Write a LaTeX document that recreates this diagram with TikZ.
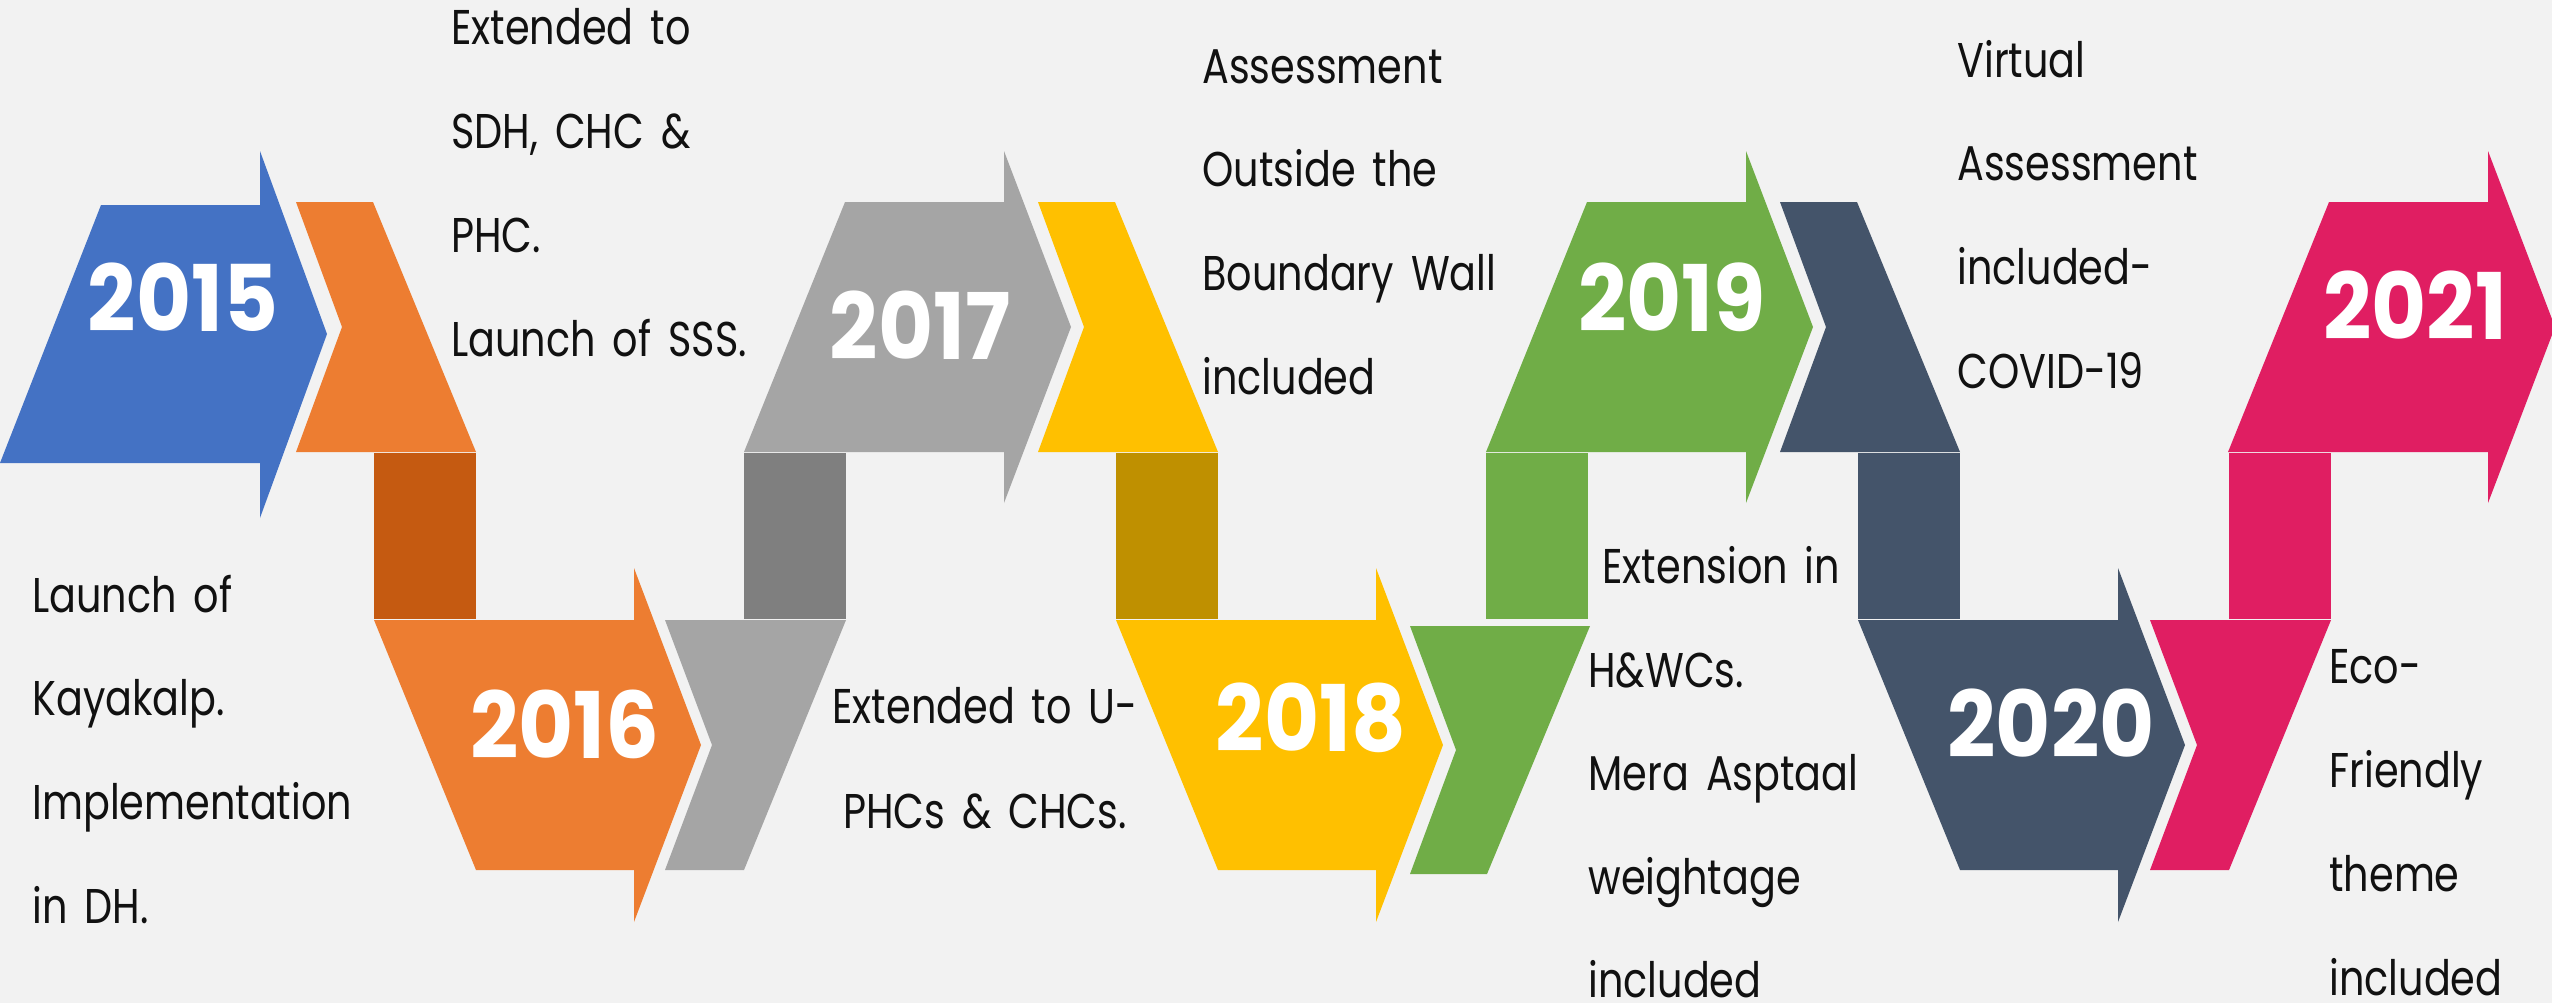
\documentclass[tikz,border=0pt]{standalone}
\usepackage{fontspec}
\newfontfamily\txtfont[FakeStretch=0.815,WordSpace=1.6]{Poppins}
\newfontfamily\yrfont[FakeStretch=0.92]{Poppins}
\definecolor{bgc}{HTML}{F2F2F2}
\definecolor{cblue}{HTML}{4472C4}
\definecolor{corange}{HTML}{ED7D31}
\definecolor{cdorange}{HTML}{C55A11}
\definecolor{cgray}{HTML}{A5A5A5}
\definecolor{cdgray}{HTML}{7F7F7F}
\definecolor{cyellow}{HTML}{FFC000}
\definecolor{cdyellow}{HTML}{BF9000}
\definecolor{cgreen}{HTML}{70AD47}
\definecolor{cnavy}{HTML}{44546A}
\definecolor{cpink}{HTML}{E01E62}
\definecolor{txtc}{HTML}{111111}
% #1 = left x of top edge, #2 = colour
\newcommand\UpArr[2]{\fill[#2] (#1,202) -- ({#1+159},202) -- ({#1+159},151) -- ({#1+226},327) -- ({#1+159},503) -- ({#1+159},452) -- ({#1-101},452) -- cycle;}
\newcommand\TopChev[2]{\fill[#2] (#1,202) -- ({#1+77},202) -- ({#1+180},452) -- (#1,452) -- ({#1+46},327) -- cycle;}
\newcommand\DownArr[2]{\fill[#2] (#1,620) -- ({#1+260},620) -- ({#1+260},568) -- ({#1+327},745) -- ({#1+260},922) -- ({#1+260},870) -- ({#1+102},870) -- cycle;}
\newcommand\BotChev[2]{\fill[#2] (#1,620) -- ({#1+181},620) -- ({#1+79},870) -- (#1,870) -- ({#1+47},745) -- cycle;}
\newcommand\Conn[2]{\fill[#2] (#1,453) rectangle ({#1+102},619);}
\begin{document}
\begin{tikzpicture}[x=0.5pt,y=-0.5pt,
  txt/.style={anchor=base west,inner sep=0pt,text=txtc,font=\txtfont\fontsize{24.4pt}{30pt}\selectfont},
  txtc/.style={txt,anchor=base},
  yr/.style={anchor=center,inner sep=0pt,text=white,font=\yrfont\bfseries\fontsize{46pt}{50pt}\selectfont}]
\useasboundingbox (0,0) rectangle (2552,1003);
\clip (0,0) rectangle (2552,1003);
\fill[bgc] (0,0) rectangle (2552,1003);

% 2015
\fill[cblue] (101,205) -- (260,205) -- (260,151) -- (327,334) -- (260,518) -- (260,463) -- (0,463) -- cycle;
\TopChev{296}{corange}
\Conn{374}{cdorange}
% 2016
\DownArr{374}{corange}
\BotChev{665}{cgray}
\Conn{744}{cdgray}
% 2017
\UpArr{845}{cgray}
\TopChev{1038}{cyellow}
\Conn{1116}{cdyellow}
% 2018
\DownArr{1116}{cyellow}
\fill[cgreen] (1410,626) -- (1590,626) -- (1487,874) -- (1410,874) -- (1456,750) -- cycle;
\Conn{1486}{cgreen}
% 2019
\UpArr{1587}{cgreen}
\TopChev{1780}{cnavy}
\Conn{1858}{cnavy}
% 2020
\DownArr{1858}{cnavy}
\BotChev{2150}{cpink}
\Conn{2229}{cpink}
% 2021
\UpArr{2329}{cpink}

% years
\node[yr] (y15) at (183,297) {2015};
\node[yr] (y16) at (565,724) {2016};
\node[yr] (y17) at (920,325) {2017};
\node[yr] (y18) at (1311,718) {2018};
\node[yr] (y19) at (1672,297) {2019};
\node[yr] (y20) at (2051,723) {2020};
\node[yr] (y21) at (2415,305) {2021};

% texts
\foreach \t [count=\i] in {Launch of,Kayakalp.,Implementation,in DH.}
  \node[txt,name=a\i] at (32,{612+103.7*(\i-1)}) {\t};
\foreach \t [count=\i] in {Extended to,{SDH, CHC \&},PHC.,Launch of SSS.}
  \node[txt,name=b\i] at (451,{44+104*(\i-1)}) {\t};
\node[txtc] (c1) at (985,723) {Extended to U-};
\node[txtc] (c2) at (985,828) {PHCs \& CHCs.};
\foreach \t [count=\i] in {Assessment,Outside the,Boundary Wall,included}
  \node[txt,name=d\i] at (1202,{83+103.7*(\i-1)}) {\t};
\node[txt] (e1) at (1602,583) {Extension in};
\foreach \t [count=\i] in {H\&WCs.,Mera Asptaal,weightage,included}
  \node[txt,name=e\i x] at (1588,{687+103.5*(\i-1)}) {\t};
\foreach \t [count=\i] in {Virtual,Assessment,included-,COVID-19}
  \node[txt,name=f\i] at (1957,{77+103.7*(\i-1)}) {\t};
\foreach \t [count=\i] in {Eco-,Friendly,theme,included}
  \node[txt,name=g\i] at (2329,{683+104*(\i-1)}) {\t};
\end{tikzpicture}
\end{document}
